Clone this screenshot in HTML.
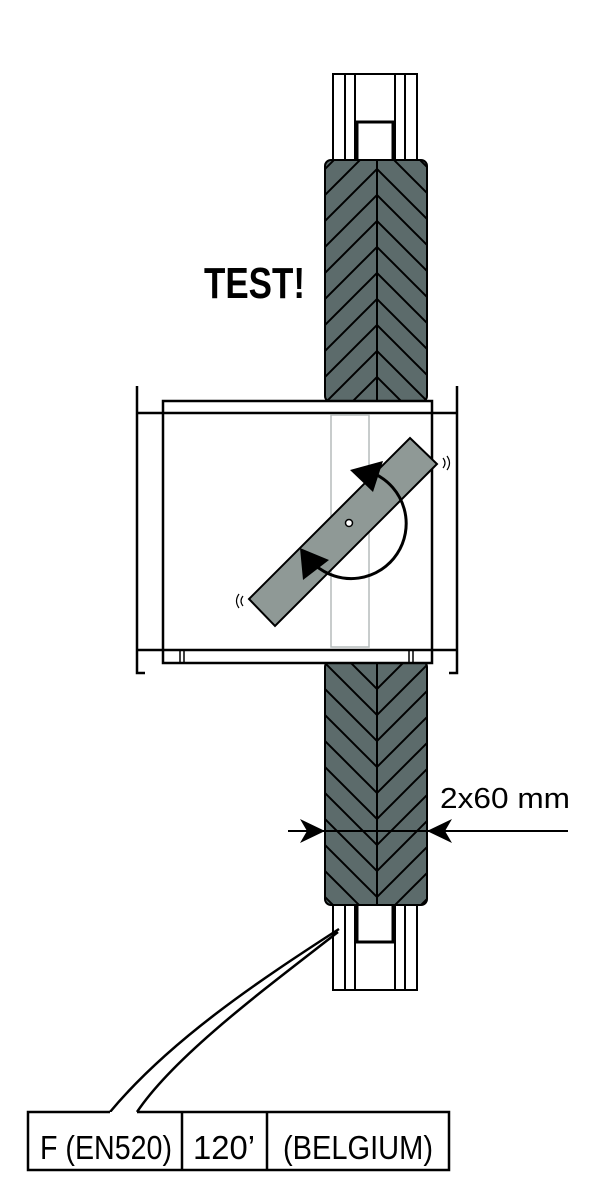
<!DOCTYPE html>
<html><head><meta charset="utf-8"><style>html,body{margin:0;padding:0;background:#fff}svg{display:block}</style></head>
<body>
<svg width="600" height="1200" viewBox="0 0 600 1200" xmlns="http://www.w3.org/2000/svg">
<defs>
<pattern id="hl" patternUnits="userSpaceOnUse" width="26" height="26"><rect width="26" height="26" fill="#5c6b6b"/><path d="M-6 6 L6 -6 M0 26 L26 0 M20 32 L32 20" stroke="#000" stroke-width="2"/></pattern>
<pattern id="hr" patternUnits="userSpaceOnUse" width="26" height="26"><rect width="26" height="26" fill="#5c6b6b"/><path d="M-6 20 L6 32 M0 0 L26 26 M20 -6 L32 6" stroke="#000" stroke-width="2"/></pattern>
<clipPath id="cw1"><rect x="325" y="160" width="102" height="242" rx="6"/></clipPath>
<clipPath id="cw2"><rect x="325" y="661" width="102" height="244" rx="6"/></clipPath>
</defs>
<g fill="none" stroke="#000" stroke-width="2">
<rect x="333" y="74" width="84" height="90" fill="#fff"/>
<path d="M345 74V164M355 74V164M395 74V164M405 74V164"/>
<rect x="357" y="122" width="36" height="42" stroke-width="3" fill="#fff"/>
<rect x="333" y="898" width="84" height="92" fill="#fff"/>
<path d="M345 898V990M355 898V990M395 898V990M405 898V990"/>
<rect x="357" y="898" width="36" height="44" stroke-width="3" fill="#fff"/>
</g>
<g clip-path="url(#cw1)"><rect x="325" y="160" width="52" height="242" fill="url(#hl)"/><rect x="377" y="160" width="50" height="242" fill="url(#hr)"/></g>
<rect x="325" y="160" width="102" height="242" rx="6" fill="none" stroke="#000" stroke-width="2"/>
<line x1="377" y1="160" x2="377" y2="402" stroke="#000" stroke-width="2"/>
<g clip-path="url(#cw2)"><rect x="325" y="661" width="52" height="244" fill="url(#hr)"/><rect x="377" y="661" width="50" height="244" fill="url(#hl)"/></g>
<rect x="325" y="661" width="102" height="244" rx="6" fill="none" stroke="#000" stroke-width="2"/>
<line x1="377" y1="661" x2="377" y2="905" stroke="#000" stroke-width="2"/>
<g fill="none" stroke="#000" stroke-width="2.5">
<rect x="163" y="401" width="269" height="262" fill="#fff"/>
<path d="M163 413H432M163 650H432"/>
<path d="M137 386V673H145M137 413H163M137 650H163"/>
<path d="M457 386V673H449M432 413H457M432 650H457"/>
<path d="M180 650V663M184 650V663M409 650V663M413 650V663" stroke-width="1.5"/>
</g>
<rect x="331" y="415" width="38" height="232" fill="none" stroke="#b5bcbc" stroke-width="1.5"/>
<polygon points="410,438 437,464 275,626 249,599" fill="#8f9996" stroke="#000" stroke-width="2"/>
<circle cx="349" cy="523" r="3.5" fill="#fff" stroke="#000" stroke-width="1.5"/>
<path d="M375 474 A55 55 0 1 1 315 565" fill="none" stroke="#000" stroke-width="3"/>
<polygon points="350,470 383,461 373,492" fill="#000"/>
<polygon points="300,548 329,560 303,580" fill="#000"/>
<path d="M443 458 q4 5 0 10 M447 456 q5 7 0 14" fill="none" stroke="#000" stroke-width="1.2"/>
<path d="M243 596 q-4 5 0 10 M239 594 q-5 7 0 14" fill="none" stroke="#000" stroke-width="1.2"/>
<line x1="288" y1="831" x2="568" y2="831" stroke="#000" stroke-width="2"/>
<polygon points="325,831 300,819 307,831 300,843" fill="#000"/>
<polygon points="427,831 452,819 445,831 452,843" fill="#000"/>
<text x="440" y="808" font-family="Liberation Sans, sans-serif" font-size="29" textLength="130" lengthAdjust="spacingAndGlyphs">2x60 mm</text>
<text x="204" y="298" font-family="Liberation Sans, sans-serif" font-size="44" font-weight="bold" textLength="101" lengthAdjust="spacingAndGlyphs">TEST!</text>
<path d="M339 929 C260 980 170 1040 110 1112 M338 932 C270 985 175 1055 137 1112" fill="none" stroke="#000" stroke-width="2.5"/>
<path d="M110 1112 H28 V1170 H449 V1112 H137" fill="#fff" stroke="#000" stroke-width="2.5"/>
<path d="M182 1112V1170M267 1112V1170" stroke="#000" stroke-width="2.5"/>
<g font-family="Liberation Sans, sans-serif" font-size="33">
<text x="40" y="1159" textLength="132" lengthAdjust="spacingAndGlyphs">F (EN520)</text>
<text x="193" y="1159" textLength="62" lengthAdjust="spacingAndGlyphs">120’</text>
<text x="283" y="1159" textLength="150" lengthAdjust="spacingAndGlyphs">(BELGIUM)</text>
</g>
</svg>
</body></html>
